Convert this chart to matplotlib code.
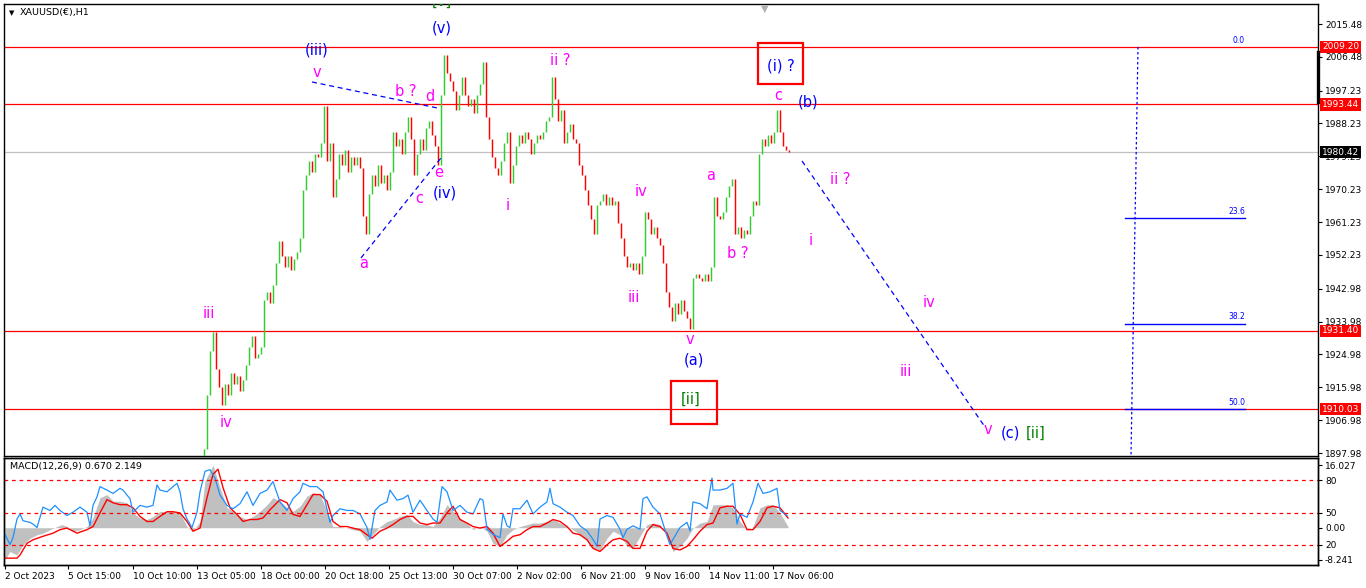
import matplotlib
matplotlib.use('Agg')
import matplotlib.pyplot as plt
from matplotlib.patches import Rectangle
import numpy as np

plt.rcParams['font.family'] = ['DejaVu Sans']

# ---------------- data ----------------
title = "XAUUSD(€),H1"
# closes sampled every 3 hourly bars, starting at hour 196 (hour 0 = 2 Oct 2023 00:00 on the chart axis)
price_start_hour = 196
bar_step = 3
closes = [1893, 1899, 1914, 1926, 1931, 1921, 1916, 1911, 1917, 1914, 1920, 1917, 1919, 1915, 1918,
          1922, 1927, 1930, 1924, 1925, 1927, 1940, 1942, 1939, 1944, 1950, 1956, 1952, 1949,
          1952, 1948, 1951, 1953, 1957, 1970, 1974, 1978, 1975, 1980, 1979, 1983, 1993, 1978,
          1983, 1968, 1973, 1980, 1977, 1981, 1975, 1979, 1977, 1979, 1976, 1963, 1958, 1969,
          1974, 1971, 1977, 1972, 1974, 1970, 1975, 1986, 1982, 1984, 1980, 1986, 1990, 1984,
          1974, 1980, 1984, 1981, 1987, 1989, 1985, 1982, 1977, 1996, 2007, 2002, 2000, 1997,
          1992, 1996, 2001, 1996, 1993, 1995, 1991, 1996, 1999, 2005, 1990, 1984, 1979, 1976,
          1974, 1978, 1983, 1986, 1972, 1977, 1982, 1985, 1983, 1986, 1984, 1980, 1983, 1985,
          1984, 1986, 1989, 1990, 2001, 1995, 1989, 1992, 1983, 1986, 1988, 1984, 1983, 1977,
          1974, 1970, 1966, 1962, 1958, 1966, 1967, 1969, 1966, 1968, 1966, 1967, 1961, 1957,
          1952, 1949, 1950, 1948, 1950, 1947, 1952, 1964, 1962, 1958, 1960, 1957, 1955, 1950,
          1942, 1938, 1934, 1939, 1936, 1940, 1937, 1935, 1932, 1946, 1947, 1946, 1945, 1947,
          1945, 1949, 1968, 1963, 1962, 1964, 1968, 1971, 1973, 1958, 1960, 1957, 1959, 1958,
          1963, 1967, 1966, 1980, 1984, 1982, 1985, 1983, 1986, 1992, 1986, 1982, 1981, 1980.42]

price_ticks = [2015.48, 2006.48, 1997.23, 1988.23, 1979.23, 1970.23, 1961.23, 1952.23,
               1942.98, 1933.98, 1924.98, 1915.98, 1906.98, 1897.98]
red_levels = [2009.20, 1993.44, 1931.40, 1910.03]
last_price = 1980.42

fib_top = 2009.20
fib_range = 198.4
fib_levels = [0.0, 23.6, 38.2, 50.0]

time_tick_hours = [0, 63, 128, 192, 256, 320, 384, 448, 512, 576, 640, 704, 768]
time_tick_labels = ["2 Oct 2023", "5 Oct 15:00", "10 Oct 10:00", "13 Oct 05:00", "18 Oct 00:00",
                    "20 Oct 18:00", "25 Oct 13:00", "30 Oct 07:00", "2 Nov 02:00", "6 Nov 21:00",
                    "9 Nov 16:00", "14 Nov 11:00", "17 Nov 06:00"]

hist_hours = [0, 5, 12, 18, 25, 32, 38, 45, 52, 57, 62, 68, 75, 82, 88, 95, 102, 108, 115, 122, 128,
              135, 142, 148, 155, 162, 168, 175, 182, 188, 195, 200, 208, 215, 222, 228, 235, 242,
              248, 255, 262, 268, 275, 282, 288, 295, 302, 308, 315, 322, 328, 335, 342, 348, 355,
              362, 368, 375, 382, 388, 395, 402, 408, 415, 422, 428, 435, 442, 448, 455, 462, 468,
              475, 482, 488, 495, 502, 508, 515, 522, 528, 535, 542, 548, 555, 562, 568, 575, 582,
              588, 595, 602, 608, 615, 622, 628, 635, 642, 648, 655, 662, 668, 675, 682, 688, 695,
              702, 708, 715, 722, 728, 735, 742, 748, 755, 762, 768, 775, 783]
hist_values = [-8.2, -6.1, -7.0, -4.4, -2.7, -1.8, -1.4, -0.5, 0.3, 0.8, 0.3, -0.9, -0.5, 0.3, 2.5,
               7.7, 8.5, 6.8, 6.8, 6.4, 3.8, 2.5, 2.1, 2.9, 4.2, 4.1, 4.2, 3.8, 0.3, -0.9, 1.6, 12.0,
               16.0, 10.3, 5.1, 4.2, 2.9, 2.1, 2.9, 4.2, 5.9, 7.7, 6.8, 5.1, 4.2, 5.5, 8.1, 9.0, 8.5,
               4.2, 0.3, 0.3, -0.1, -0.5, -0.9, -3.5, -1.8, 0.3, 1.6, 2.1, 2.9, 3.4, 1.6, 0.8, 0.8,
               0.3, 2.5, 5.9, 4.2, 2.5, 1.2, -0.5, 0.3, -0.9, -4.0, -4.8, -1.8, -0.5, 0.3, 0.8, 1.2,
               1.2, 1.6, 2.1, 1.2, 0.3, -0.5, -1.8, -3.1, -5.3, -5.7, -2.7, -0.9, -1.8, -4.8, -5.3,
               -2.2, 0.8, 1.2, 0.8, -2.2, -6.1, -4.8, -2.7, -0.1, 1.2, 1.6, 5.9, 5.9, 5.9, 5.1, 1.6,
               -0.5, 0.3, 5.1, 5.9, 5.9, 3.8, 0.3]

signal_hours = [0, 12, 15, 22, 28, 38, 48, 55, 62, 72, 82, 88, 95, 102, 108, 115, 122, 128, 135, 142,
                148, 155, 162, 168, 175, 182, 188, 195, 202, 208, 213, 218, 225, 232, 238, 245, 252,
                258, 265, 275, 282, 288, 295, 302, 308, 315, 322, 328, 335, 342, 348, 355, 362, 367,
                375, 382, 388, 395, 402, 408, 415, 422, 428, 435, 442, 448, 455, 462, 468, 475, 482,
                488, 495, 502, 508, 515, 522, 528, 535, 542, 548, 555, 562, 568, 575, 582, 588, 595,
                602, 608, 615, 622, 628, 635, 642, 648, 655, 662, 668, 675, 682, 688, 695, 702, 708,
                715, 722, 728, 735, 742, 748, 755, 762, 768, 775, 783]
signal_values = [-7.8, -7.8, -7.0, -4.0, -3.1, -2.2, -1.4, -0.5, -0.1, -1.4, -0.5, 0.3, 3.8, 7.2, 6.4,
                 5.9, 5.9, 5.1, 2.9, 1.6, 1.6, 2.9, 4.1, 4.1, 3.8, 1.6, -0.9, -0.1, 7.7, 13.7, 15.0,
                 10.3, 5.1, 3.4, 1.6, 2.1, 2.1, 2.5, 4.6, 7.2, 6.4, 3.4, 2.9, 5.9, 8.5, 8.5, 6.8, 1.6,
                 0.3, 0.3, -0.1, -0.5, -1.8, -2.7, -0.9, -0.1, 0.8, 2.1, 2.9, 2.9, 1.2, 0.8, 1.2, 1.2,
                 3.8, 5.5, 2.1, 1.2, 0.3, -0.1, 0.3, -1.4, -4.8, -3.5, -2.2, -1.8, -0.5, 0.3, 0.3, 1.2,
                 2.1, 1.6, 0.3, -1.4, -1.8, -3.1, -5.3, -6.1, -4.4, -3.1, -2.7, -3.5, -5.3, -5.3, -0.9,
                 0.8, 0.3, -1.4, -5.3, -5.7, -4.8, -3.1, -0.9, 0.8, 1.2, 5.1, 5.5, 5.5, 3.4, -0.5,
                 -0.5, 1.6, 5.1, 5.5, 5.1, 2.5]

rsi_hours = [0, 5, 8, 12, 15, 18, 25, 28, 32, 35, 38, 45, 50, 55, 62, 68, 75, 82, 85, 88, 92, 95,
             102, 108, 115, 118, 122, 125, 128, 135, 142, 148, 152, 155, 162, 168, 172, 175, 178,
             182, 187, 192, 195, 200, 205, 210, 215, 222, 228, 235, 242, 248, 255, 262, 268, 275,
             282, 288, 295, 298, 305, 312, 318, 325, 328, 335, 342, 348, 355, 362, 365, 370, 375,
             382, 385, 392, 398, 403, 408, 415, 422, 428, 432, 437, 442, 448, 455, 462, 468, 475,
             478, 482, 488, 495, 498, 502, 505, 508, 515, 522, 528, 535, 542, 545, 548, 555, 562,
             568, 575, 582, 588, 592, 595, 602, 608, 615, 618, 622, 628, 635, 638, 642, 648, 655,
             662, 665, 668, 675, 682, 685, 688, 695, 702, 707, 708, 715, 722, 728, 732, 735, 742,
             748, 753, 758, 765, 772, 775, 782]
rsi_values = [29.8, 20.3, 26.7, 44.0, 48.7, 42.4, 40.9, 39.3, 36.1, 45.6, 55.0, 51.9, 56.6, 51.9,
              47.2, 50.3, 55.0, 50.3, 37.7, 56.6, 64.5, 74.0, 70.8, 67.7, 72.4, 70.8, 66.1, 62.9,
              50.3, 56.6, 55.0, 56.6, 75.6, 70.8, 69.2, 74.0, 77.1, 69.2, 53.5, 44.0, 36.1, 50.3,
              69.2, 88.2, 89.7, 81.9, 66.1, 56.6, 53.5, 58.2, 69.2, 56.6, 67.7, 70.8, 78.7, 59.8,
              51.9, 62.9, 69.2, 77.1, 74.0, 74.0, 69.2, 40.9, 47.2, 53.5, 51.9, 51.9, 48.7, 36.1,
              25.1, 51.9, 56.6, 59.8, 70.8, 61.4, 62.9, 66.1, 50.3, 61.4, 51.9, 44.0, 40.9, 74.0,
              69.2, 51.9, 56.6, 50.3, 48.7, 62.9, 61.4, 34.5, 29.8, 26.7, 48.7, 37.7, 36.1, 53.5,
              53.5, 61.4, 48.7, 55.0, 59.8, 72.4, 58.2, 55.0, 50.3, 47.2, 37.7, 33.0, 25.1, 18.8,
              44.0, 47.2, 45.6, 34.5, 26.7, 34.5, 37.7, 34.5, 62.9, 64.5, 55.0, 48.7, 28.2, 20.3,
              25.1, 36.1, 40.9, 33.0, 59.8, 58.2, 53.5, 81.9, 70.8, 70.8, 72.4, 77.1, 39.3, 48.7,
              45.6, 59.8, 77.1, 67.7, 69.2, 72.4, 51.9, 47.2]
rsi_levels = [80, 50, 20]
macd_label = "MACD(12,26,9) 0.670 2.149"
macd_ticks = [16.027, 0.0, -8.241]
macd_tick_labels = ["16.027", "0.00", "-8.241"]

# wave labels: (text, hour, price, colour)
MAG, BLU, GRN = '#FF00FF', '#0000FF', '#008000'
wave_labels = [
    ("(iii)", 312, 2008.4, BLU), ("(v)", 437, 2014.4, BLU), ("v", 312, 2002.3, MAG),
    ("b ?", 401, 1996.9, MAG), ("d", 425, 1995.5, MAG), ("e", 434, 1974.9, MAG),
    ("(iv)", 440, 1969.2, BLU), ("c", 414, 1967.8, MAG), ("a", 359, 1950.0, MAG),
    ("iii", 204, 1936.3, MAG), ("iv", 221, 1906.2, MAG), ("i", 503, 1965.9, MAG),
    ("ii ?", 555, 2005.6, MAG), ("iv", 636, 1969.5, MAG), ("iii", 629, 1940.7, MAG),
    ("v", 685, 1929.0, MAG), ("(a)", 689, 1923.4, BLU), ("[ii]", 686, 1912.6, GRN),
    ("a", 706, 1973.9, MAG), ("b ?", 733, 1952.5, MAG), ("c", 773, 1995.8, MAG),
    ("(b)", 803, 1994.1, BLU), ("(i) ?", 776, 2004.0, BLU), ("ii ?", 835, 1972.8, MAG),
    ("i", 806, 1956.3, MAG), ("iv", 924, 1939.3, MAG), ("iii", 901, 1920.2, MAG),
    ("v", 983, 1904.3, MAG), ("(c)", 1005, 1903.5, BLU), ("[ii]", 1031, 1903.5, GRN),
]
top_cut_label = ("[v]", 437, 2021.6, GRN)
# boxed labels: (hour0, hour1, price_low, price_high)
label_boxes = [(666, 712, 1905.9, 1917.7), (753, 798, 1999.05, 2010.3)]
# dashed trend lines: (hour0, price0, hour1, price1)
trend_lines = [(307, 1999.6, 432, 1992.5), (356, 1951.4, 436, 1978.8), (797, 1977.96, 980, 1905.1)]

# ---------------- layout ----------------
W, H = 1366, 588
fig = plt.figure(figsize=(W / 100, H / 100), dpi=100, facecolor='white')


def rect(x0, y0, x1, y1):
    return [x0 / W, 1 - y1 / H, (x1 - x0) / W, (y1 - y0) / H]


ax = fig.add_axes(rect(4, 4, 1318, 456))
ax2 = fig.add_axes(rect(4, 458, 1318, 565))
XLIM = (-1, 1313)
TICKFONT = 6.5

# ---------------- main price chart ----------------
ax.set_xlim(*XLIM)
ax.set_ylim(1897.16, 2020.96)
hours = price_start_hour + bar_step * np.arange(len(closes))
c = np.array(closes, dtype=float)
o, cl, xs = c[:-1], c[1:], hours[1:]
cols = ['#32CD32' if b >= a else '#FF0000' for a, b in zip(o, cl)]
ax.vlines(xs, np.minimum(o, cl), np.maximum(o, cl), colors=cols, lw=1.05, zorder=3)

for lv in red_levels:
    ax.axhline(lv, color='#FF0000', lw=0.9, zorder=2)
ax.axhline(last_price, color='#C0C0C0', lw=0.9, zorder=1)

# fibonacci
fib_prices = [fib_top - fib_range * l / 100 for l in fib_levels]
for l, p in zip(fib_levels, fib_prices):
    if l > 0:
        ax.plot([1120, 1240], [p, p], color='#0000FF', lw=1.0, zorder=2)
    ax.text(1240, p + 0.6, f"{l:.1f}", color='#0000FF', fontsize=5.5, ha='right', va='bottom')
ax.plot([1133, 1126], [fib_top, 1897.16], color='#0000FF', lw=0.9, ls=(0, (2, 2)), zorder=2)

for h0, p0, h1, p1 in trend_lines:
    ax.plot([h0, h1], [p0, p1], color='#0000FF', lw=0.9, ls=(0, (4, 3)), zorder=4)

for txt, hx, py, colr in wave_labels:
    ax.text(hx, py, txt, color=colr, fontsize=10.5, ha='center', va='center', zorder=5)
# label that is cut by the top edge of the chart, as in the original
t = ax.text(top_cut_label[1], top_cut_label[2], top_cut_label[0], color=top_cut_label[3],
            fontsize=10.5, ha='center', va='center', zorder=5, clip_on=True)
for h0, h1, p0, p1 in label_boxes:
    ax.add_patch(Rectangle((h0, p0), h1 - h0, p1 - p0, fill=False, ec='#FF0000', lw=1.6, zorder=5))

ax.text(16 / 1314, 1 - 9 / 452, title, transform=ax.transAxes, fontsize=6.8, ha='left', va='center')
ax.text(8 / 1314, 1 - 9 / 452, "▼", transform=ax.transAxes, fontsize=5, ha='center', va='center')
ax.text(760, 2019.6, "▼", fontsize=7, color='#B0B0B0', ha='center', va='center')

ax.yaxis.tick_right()
ax.set_yticks(price_ticks)
ax.set_yticklabels([f"{t:.2f}" for t in price_ticks])
ax.tick_params(axis='y', labelsize=TICKFONT, length=3, width=0.8, pad=2, direction='out')
ax.tick_params(axis='x', length=0, labelbottom=False)
for s in ax.spines.values():
    s.set_linewidth(1.0)

ytr = ax.get_yaxis_transform()
for lv in red_levels:
    ax.text(1.003, lv, f"{lv:.2f}", transform=ytr, fontsize=TICKFONT, color='white', ha='left',
            va='center', bbox=dict(boxstyle='square,pad=0.18', fc='#FF0000', ec='none'), zorder=6)
ax.text(1.003, last_price, f"{last_price:.2f}", transform=ytr, fontsize=TICKFONT, color='white',
        ha='left', va='center', bbox=dict(boxstyle='square,pad=0.18', fc='black', ec='none'), zorder=6)
ax.plot([1.0, 1.0], [2007.8, 1994.2], transform=ytr, color='black', lw=2.4, clip_on=False)

# ---------------- MACD panel ----------------
ax2.set_xlim(*XLIM)
ax2.set_ylim(-9.56, 17.87)
ax2.fill_between(hist_hours, 0, hist_values, color='#C0C0C0', lw=0, zorder=1)
ax2.plot(signal_hours, signal_values, color='#FF0000', lw=1.0, zorder=3)
ax3 = ax2.twinx()
ax3.set_ylim(1.4, 100.5)
ax3.plot(rsi_hours, rsi_values, color='#1E90FF', lw=0.9, zorder=2)
for lv in rsi_levels:
    ax3.axhline(lv, color='#FF0000', lw=0.9, ls=(0, (3, 3)))

ax2.yaxis.tick_right()
ax2.set_yticks(macd_ticks)
ax2.set_yticklabels(macd_tick_labels)
ax2.tick_params(axis='y', labelsize=TICKFONT, length=3, width=0.8, pad=2)
ax3.set_yticks(rsi_levels)
ax3.set_yticklabels([str(v) for v in rsi_levels])
ax3.tick_params(axis='y', labelsize=TICKFONT, length=3, width=0.8, pad=2)
ax2.set_xticks(time_tick_hours)
ax2.set_xticklabels(time_tick_labels, ha='left')
ax2.tick_params(axis='x', labelsize=TICKFONT, length=3, width=0.8, pad=2)
ax2.text(6 / 1314, 1 - 9 / 107, macd_label, transform=ax2.transAxes, fontsize=6.8, ha='left',
         va='center')
for a in (ax2, ax3):
    for s in a.spines.values():
        s.set_linewidth(1.0)

fig.savefig('out.png', dpi=100, facecolor='white')
